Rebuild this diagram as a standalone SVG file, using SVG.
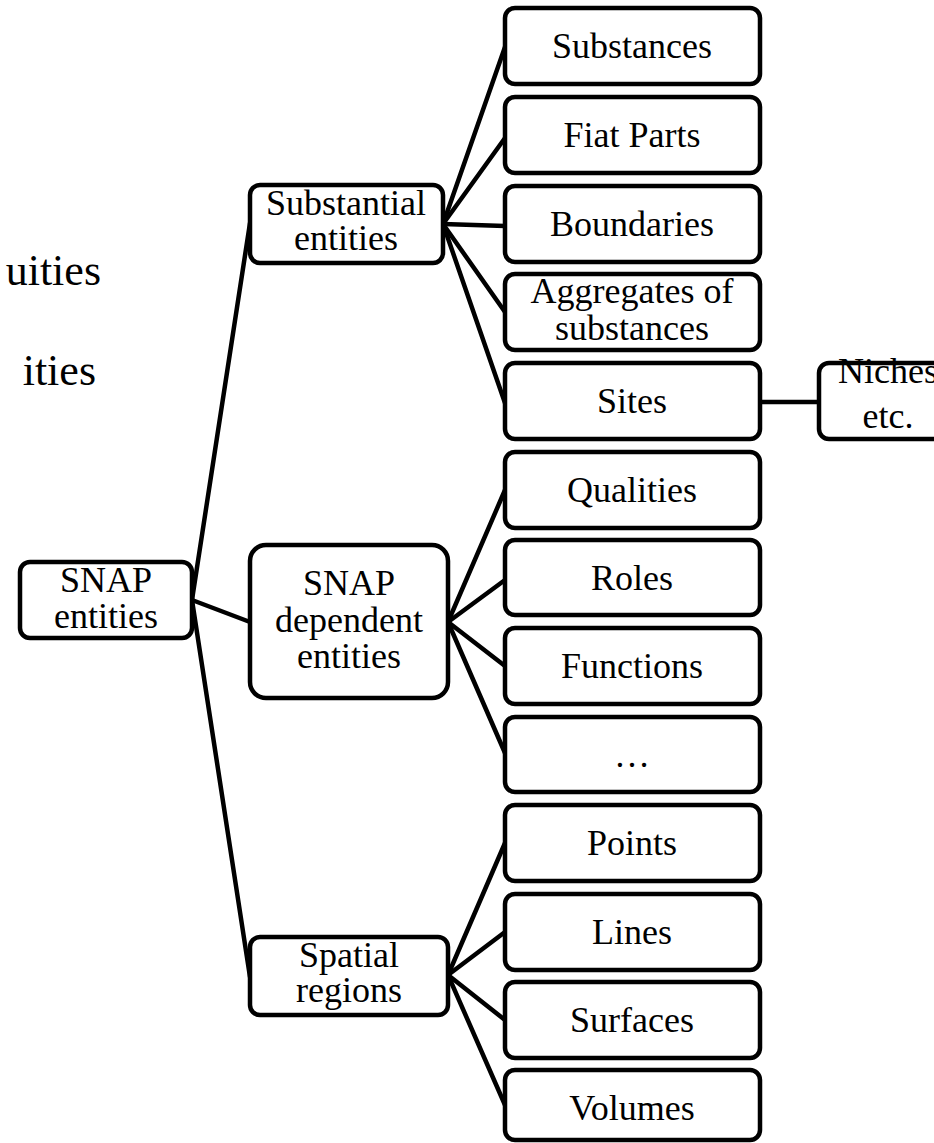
<svg xmlns="http://www.w3.org/2000/svg" width="934" height="1143" viewBox="0 0 934 1143">
  <style>
    .box { fill: #ffffff; stroke: #000000; stroke-width: 4.5; }
    .lbl { font-family: "Liberation Serif", "Times New Roman", serif; font-size: 36px; fill: #000000; text-anchor: middle; }
    .side { font-family: "Liberation Serif", "Times New Roman", serif; font-size: 44px; fill: #000000; text-anchor: end; }
    .conn line { stroke: #000000; stroke-width: 4.5; stroke-linecap: round; }
  </style>
  <rect width="934" height="1143" fill="#ffffff"/>

  <!-- partially visible slide text on the left -->
  <text class="side" x="101" y="285">uities</text>
  <text class="side" x="96" y="385">ities</text>

  <!-- connectors -->
  <g id="connectors" class="conn">
    <line x1="192" y1="600" x2="250" y2="223"/>
    <line x1="192" y1="600" x2="250" y2="622"/>
    <line x1="192" y1="600" x2="250" y2="977"/>

    <line x1="443" y1="224" x2="505" y2="47"/>
    <line x1="443" y1="224" x2="505" y2="138"/>
    <line x1="443" y1="224" x2="505" y2="226"/>
    <line x1="443" y1="224" x2="505" y2="312"/>
    <line x1="443" y1="224" x2="505" y2="403"/>

    <line x1="448" y1="622" x2="505" y2="490"/>
    <line x1="448" y1="622" x2="505" y2="580"/>
    <line x1="448" y1="622" x2="505" y2="666"/>
    <line x1="448" y1="622" x2="505" y2="753"/>

    <line x1="448" y1="975" x2="505" y2="843"/>
    <line x1="448" y1="975" x2="505" y2="932"/>
    <line x1="448" y1="975" x2="505" y2="1020"/>
    <line x1="448" y1="975" x2="505" y2="1105"/>

    <line x1="760" y1="402" x2="819" y2="402"/>
  </g>

  <!-- root -->
  <g id="snap-entities">
    <rect class="box" x="20" y="562" width="172" height="76" rx="10"/>
    <text class="lbl" x="106" y="592">SNAP</text>
    <text class="lbl" x="106" y="628">entities</text>
  </g>

  <!-- second level -->
  <g id="substantial-entities">
    <rect class="box" x="250" y="185" width="193" height="78" rx="10"/>
    <text class="lbl" x="346" y="215">Substantial</text>
    <text class="lbl" x="346" y="250">entities</text>
  </g>
  <g id="snap-dependent-entities">
    <rect class="box" x="250" y="545" width="198" height="153" rx="16"/>
    <text class="lbl" x="349" y="595">SNAP</text>
    <text class="lbl" x="349" y="632">dependent</text>
    <text class="lbl" x="349" y="668">entities</text>
  </g>
  <g id="spatial-regions">
    <rect class="box" x="250" y="937" width="198" height="78" rx="10"/>
    <text class="lbl" x="349" y="967">Spatial</text>
    <text class="lbl" x="349" y="1002">regions</text>
  </g>

  <!-- leaves -->
  <g id="substances">
    <rect class="box" x="505" y="8" width="255" height="76" rx="10"/>
    <text class="lbl" x="632" y="58">Substances</text>
  </g>
  <g id="fiat-parts">
    <rect class="box" x="505" y="97" width="255" height="76" rx="10"/>
    <text class="lbl" x="632" y="147">Fiat Parts</text>
  </g>
  <g id="boundaries">
    <rect class="box" x="505" y="186" width="255" height="76" rx="10"/>
    <text class="lbl" x="632" y="236">Boundaries</text>
  </g>
  <g id="aggregates-of-substances">
    <rect class="box" x="505" y="274" width="255" height="76" rx="10"/>
    <text class="lbl" x="632" y="303">Aggregates of</text>
    <text class="lbl" x="632" y="340">substances</text>
  </g>
  <g id="sites">
    <rect class="box" x="505" y="363" width="255" height="76" rx="10"/>
    <text class="lbl" x="632" y="413">Sites</text>
  </g>
  <g id="niches-etc">
    <rect class="box" x="819" y="363" width="142" height="76" rx="10"/>
    <text class="lbl" x="888" y="383">Niches</text>
    <text class="lbl" x="888" y="428">etc.</text>
  </g>
  <g id="qualities">
    <rect class="box" x="505" y="452" width="255" height="76" rx="10"/>
    <text class="lbl" x="632" y="502">Qualities</text>
  </g>
  <g id="roles">
    <rect class="box" x="505" y="540" width="255" height="75" rx="10"/>
    <text class="lbl" x="632" y="590">Roles</text>
  </g>
  <g id="functions">
    <rect class="box" x="505" y="628" width="255" height="76" rx="10"/>
    <text class="lbl" x="632" y="678">Functions</text>
  </g>
  <g id="more">
    <rect class="box" x="505" y="717" width="255" height="75" rx="10"/>
    <text class="lbl" x="632" y="767">…</text>
  </g>
  <g id="points">
    <rect class="box" x="505" y="805" width="255" height="76" rx="10"/>
    <text class="lbl" x="632" y="855">Points</text>
  </g>
  <g id="lines">
    <rect class="box" x="505" y="894" width="255" height="76" rx="10"/>
    <text class="lbl" x="632" y="944">Lines</text>
  </g>
  <g id="surfaces">
    <rect class="box" x="505" y="982" width="255" height="76" rx="10"/>
    <text class="lbl" x="632" y="1032">Surfaces</text>
  </g>
  <g id="volumes">
    <rect class="box" x="505" y="1070" width="255" height="70" rx="10"/>
    <text class="lbl" x="632" y="1120">Volumes</text>
  </g>
</svg>
